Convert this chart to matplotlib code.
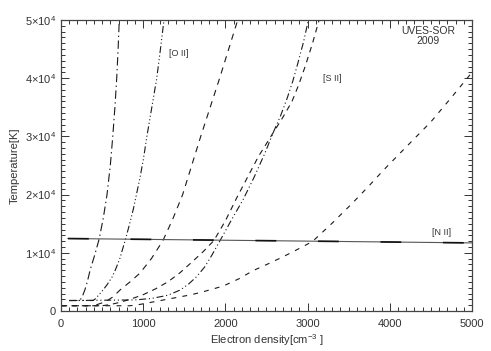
import matplotlib
matplotlib.use("Agg")
import matplotlib.pyplot as plt
from matplotlib.ticker import MultipleLocator, FixedLocator, FixedFormatter

plt.rcParams['font.family'] = ['Liberation Sans', 'DejaVu Sans']
plt.rcParams['mathtext.fontset'] = 'custom'
plt.rcParams['mathtext.rm'] = 'Liberation Sans'
plt.rcParams['mathtext.default'] = 'regular'
plt.rcParams['lines.scale_dashes'] = False

# ---- data (electron density [cm^-3], temperature [K]) ----
a_ne = [100, 230, 260, 290, 320, 354, 410, 465, 515, 560, 600, 630, 656, 678, 695, 709]
a_T = [1800, 1800, 2500, 3600, 5000, 7000, 9600, 12400, 16000, 20000, 25000, 30000,
       35000, 40000, 45000, 50000]

b_ne = [100, 390, 420, 450, 500, 560, 620, 660, 718, 780, 830, 880, 960, 1005, 1045,
        1105, 1165, 1210, 1253]
b_T = [1800, 1800, 2100, 2600, 3400, 4500, 5800, 7000, 9100, 12100, 14700, 17500,
       22800, 26300, 30000, 35000, 40000, 45000, 50000]

c_ne = [0, 380, 440, 500, 570, 630, 718, 840, 960, 1100, 1240, 1360, 1480, 1590, 1700,
        1815, 1930, 2040, 2150]
c_T = [900, 900, 1100, 1400, 1850, 2400, 3600, 5000, 6500, 9000, 12100, 15800, 20000,
       25000, 30000, 35000, 40000, 45000, 50000]

d_ne = [100, 900, 1100, 1300, 1450, 1550, 1650, 1750, 1840, 1935, 2080, 2214, 2350,
        2480, 2580, 2670, 2750, 2820, 2880, 2950, 3010]
d_T = [1800, 1900, 2150, 2700, 3600, 4600, 5900, 7600, 9700, 12100, 15800, 19100,
       23000, 27100, 30600, 33500, 36500, 39500, 42500, 46200, 50000]

e_ne = [0, 500, 600, 720, 860, 1000, 1150, 1300, 1450, 1600, 1730, 1860, 2000, 2140,
        2270, 2400, 2580, 2700, 2810, 2890, 2970, 3060, 3140]
e_T = [900, 900, 1100, 1500, 2100, 2800, 3800, 5000, 6600, 8500, 10200, 12100, 15500,
       19500, 23000, 26500, 30600, 33300, 36000, 38800, 42000, 46000, 50000]

f_ne = [0, 840, 970, 1100, 1250, 1400, 1550, 1690, 1830, 1975, 2160, 2340, 2520, 2700,
        2880, 3060, 3300, 3550, 3740, 3930, 4200, 4500, 4750, 5000]
f_T = [900, 900, 1150, 1500, 1900, 2300, 2700, 3150, 3700, 4300, 5500, 6950, 8100,
       9300, 10600, 11950, 15100, 18600, 21400, 24300, 28200, 32500, 36700, 41000]

nii_ne = [85, 5000]
nii_T = [12450, 11700]

x_ticks = [0, 1000, 2000, 3000, 4000, 5000]
x_ticklabels = ['0', '1000', '2000', '3000', '4000', '5000']
y_ticks = [0, 10000, 20000, 30000, 40000, 50000]
y_ticklabels = ['0', '1×10$^{4}$', '2×10$^{4}$', '3×10$^{4}$', '4×10$^{4}$', '5×10$^{4}$']

fig = plt.figure(figsize=(4.91, 3.51), dpi=100)
ax = fig.add_axes([0.1242, 0.114, 0.8371, 0.829])

lc = '#1a1a1a'
lw = 0.8
ax.plot(a_ne, a_T, color=lc, lw=lw, dashes=(6, 2.5, 1, 2.5))
ax.plot(b_ne, b_T, color=lc, lw=lw, dashes=(5, 1.8, 0.8, 1.8, 0.8, 1.8, 0.8, 1.8))
ax.plot(c_ne, c_T, color=lc, lw=lw, dashes=(4.5, 4))
ax.plot(d_ne, d_T, color=lc, lw=lw, dashes=(5, 2, 0.8, 2, 0.8, 2))
ax.plot(e_ne, e_T, color=lc, lw=lw, dashes=(4, 3.5))
ax.plot(f_ne, f_T, color=lc, lw=lw, dashes=(3.5, 4.5))
ax.plot(nii_ne, nii_T, color='#555555', lw=0.8)
ax.plot(nii_ne, nii_T, color='#111111', lw=1.2, dashes=(15, 30))

ax.set_xlim(0, 5000)
ax.set_ylim(0, 50000)
ax.xaxis.set_major_locator(FixedLocator(x_ticks))
ax.xaxis.set_major_formatter(FixedFormatter(x_ticklabels))
ax.yaxis.set_major_locator(FixedLocator(y_ticks))
ax.yaxis.set_major_formatter(FixedFormatter(y_ticklabels))
ax.xaxis.set_minor_locator(MultipleLocator(100))
ax.yaxis.set_minor_locator(MultipleLocator(1000))
ax.tick_params(which='both', direction='in', top=True, right=True, colors='#333333',
               labelsize=8, labelcolor='#333333', width=0.7)
ax.tick_params(which='major', length=6)
ax.tick_params(which='minor', length=3)
ax.tick_params(axis='x', pad=6)
for s in ax.spines.values():
    s.set_color('#444444')
    s.set_linewidth(0.9)

ax.set_xlabel('Electron density[cm$^{-3}$ ]', fontsize=8, color='#333333', labelpad=2)
ax.set_ylabel('Temperature[K]', fontsize=8, color='#333333', labelpad=4)

ax.text(1436, 44300, '[O II]', fontsize=6.5, color='#333333', ha='center', va='center')
ax.text(3297, 39900, '[S II]', fontsize=6.5, color='#333333', ha='center', va='center')
ax.text(4635, 13570, '[N II]', fontsize=6.5, color='#333333', ha='center', va='center')
ax.text(4465, 47250, 'UVES-SOR\n2009', fontsize=7.5, color='#333333', ha='center', va='center',
        linespacing=1.05)

fig.savefig('out.png', dpi=100)
